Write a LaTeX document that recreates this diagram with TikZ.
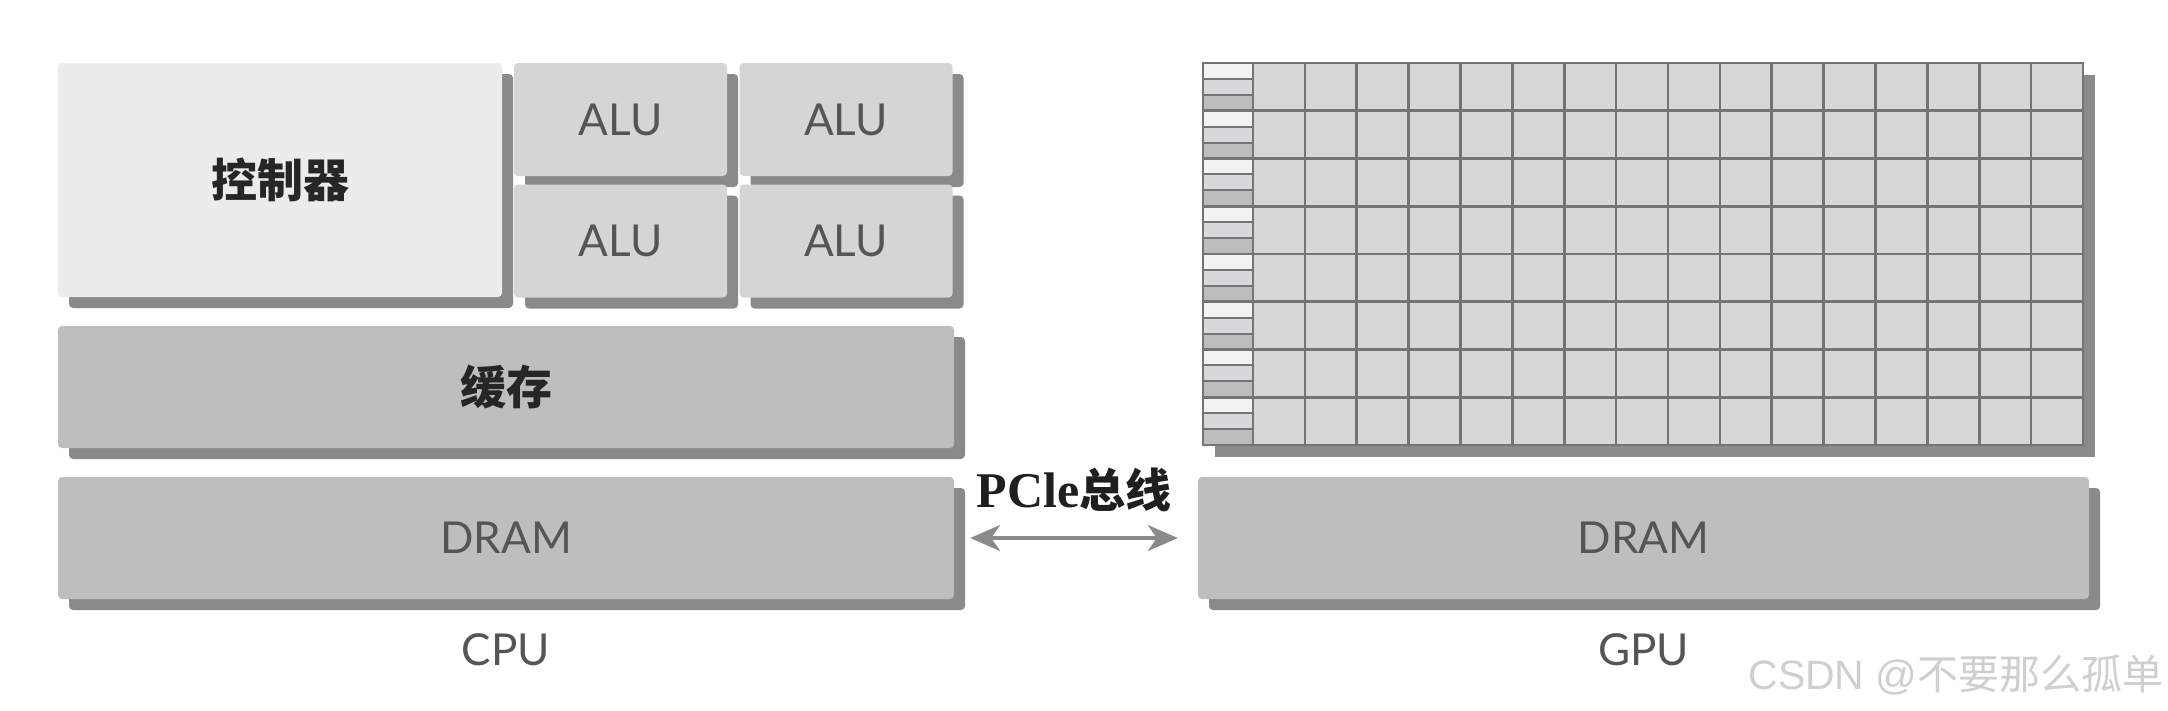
\documentclass[tikz,border=0pt]{standalone}
\usepackage{fontspec}
\setsansfont{Lato}
\newfontfamily\cjk{Noto Sans CJK SC}
\newfontfamily\pcfont{Liberation Serif}
\newfontfamily\wmfont{Liberation Sans}
\usetikzlibrary{positioning, arrows.meta, shadows}

\definecolor{ctrlgray}{HTML}{EBEDED}
\definecolor{alugray}{HTML}{D5D5D5}
\definecolor{memgray}{HTML}{BEBEBE}
\definecolor{shadegray}{HTML}{8A8A8A}
\definecolor{linegray}{HTML}{747474}
\definecolor{cellgray}{HTML}{D7D7D7}
\definecolor{textgray}{HTML}{555555}
\definecolor{markgray}{HTML}{CFCFCF}
\definecolor{stripA}{HTML}{F1F2F2}
\definecolor{stripB}{HTML}{D6D9D9}
\definecolor{stripC}{HTML}{BBBDBD}

\tikzset{
  unit/.style={rectangle, rounded corners=4pt, inner sep=0pt,
    drop shadow={shadow xshift=11pt, shadow yshift=-11pt, fill=shadegray, opacity=1}},
  ctrlbox/.style={unit, fill=ctrlgray, minimum width=444pt, minimum height=234pt,
    font=\cjk\bfseries\fontsize{46}{50}\selectfont, text=black!85},
  alubox/.style={unit, fill=alugray, minimum width=213pt, minimum height=113pt,
    font=\sffamily\fontsize{44}{48}\selectfont, text=textgray},
  membox/.style={unit, fill=memgray, minimum height=122pt,
    font=\sffamily\fontsize{44}{48}\selectfont, text=textgray},
  cjkbox/.style={membox, font=\cjk\bfseries\fontsize{46}{50}\selectfont, text=black!85},
  chiplabel/.style={font=\sffamily\fontsize{44}{48}\selectfont, text=textgray},
  gridline/.style={linegray, line width=2.6pt},
  stripline/.style={linegray, line width=2pt},
  pcie/.style={shadegray, line width=3.5pt,
    {Stealth[length=30pt, width=26pt, inset=9pt]}-{Stealth[length=30pt, width=26pt, inset=9pt]}}
}

\begin{document}
\begin{tikzpicture}[x=1pt, y=-1pt]
    \useasboundingbox (0,0) rectangle (2168,710);
    \fill[white] (0,0) rectangle (2168,710);
    %--- CPU ---
    \node[ctrlbox] (ctrl) at (280,180) {控制器};
    \foreach \col/\cx in {1/620.5, 2/846}
      \foreach \row/\cy in {1/119.5, 2/241}
        \node[alubox] (alu\row\col) at (\cx,\cy) {ALU};
    \node[cjkbox, minimum width=896pt] (cache) at (506,387) {缓存};
    \node[membox, minimum width=896pt] (cpudram) at (506,538) {DRAM};
    \node[chiplabel] (cpu) at (506,650) {CPU};
    %--- GPU ---
    \fill[shadegray] (1215,75) rectangle (2095,457);
    \fill[cellgray] (1203,63) rectangle (2083,445);
    \foreach \j in {0,...,7} {
      \fill[stripA] (1203,{63+\j*47.75}) rectangle (1253,{63+\j*47.75+15.9});
      \fill[stripB] (1203,{63+\j*47.75+15.9}) rectangle (1253,{63+\j*47.75+31.8});
      \fill[stripC] (1203,{63+\j*47.75+31.8}) rectangle (1253,{63+(\j+1)*47.75});
      \draw[stripline] (1203,{63+\j*47.75+15.9}) -- (1253,{63+\j*47.75+15.9});
      \draw[stripline] (1203,{63+\j*47.75+31.8}) -- (1253,{63+\j*47.75+31.8});
    }
    \foreach \i in {0,...,16}
      \draw[gridline] ({1253+\i*51.875},63) -- ({1253+\i*51.875},445);
    \foreach \j in {0,...,8}
      \draw[gridline] (1203,{63+\j*47.75}) -- (2083,{63+\j*47.75});
    \draw[gridline] (1203,63) rectangle (2083,445);
    \node[membox, minimum width=891pt] (gpudram) at (1643.5,538) {DRAM};
    \node[chiplabel] (gpu) at (1643.5,650) {GPU};
    %--- BUS ---
    \draw[pcie] ([xshift=16pt]cpudram.east) -- ([xshift=-20pt]gpudram.west);
    \node[font=\fontsize{50}{54}\selectfont\bfseries, text=black!88] (bus) at (1074,490)
      {{\pcfont PCle}{\cjk\fontsize{46}{50}\selectfont 总线}};
    %--- WATERMARK ---
    \node[font=\wmfont\fontsize{41}{45}\selectfont, text=markgray] (mark) at (1956,675)
      {CSDN @{\cjk 不要那么孤单}};
\end{tikzpicture}
\end{document}
